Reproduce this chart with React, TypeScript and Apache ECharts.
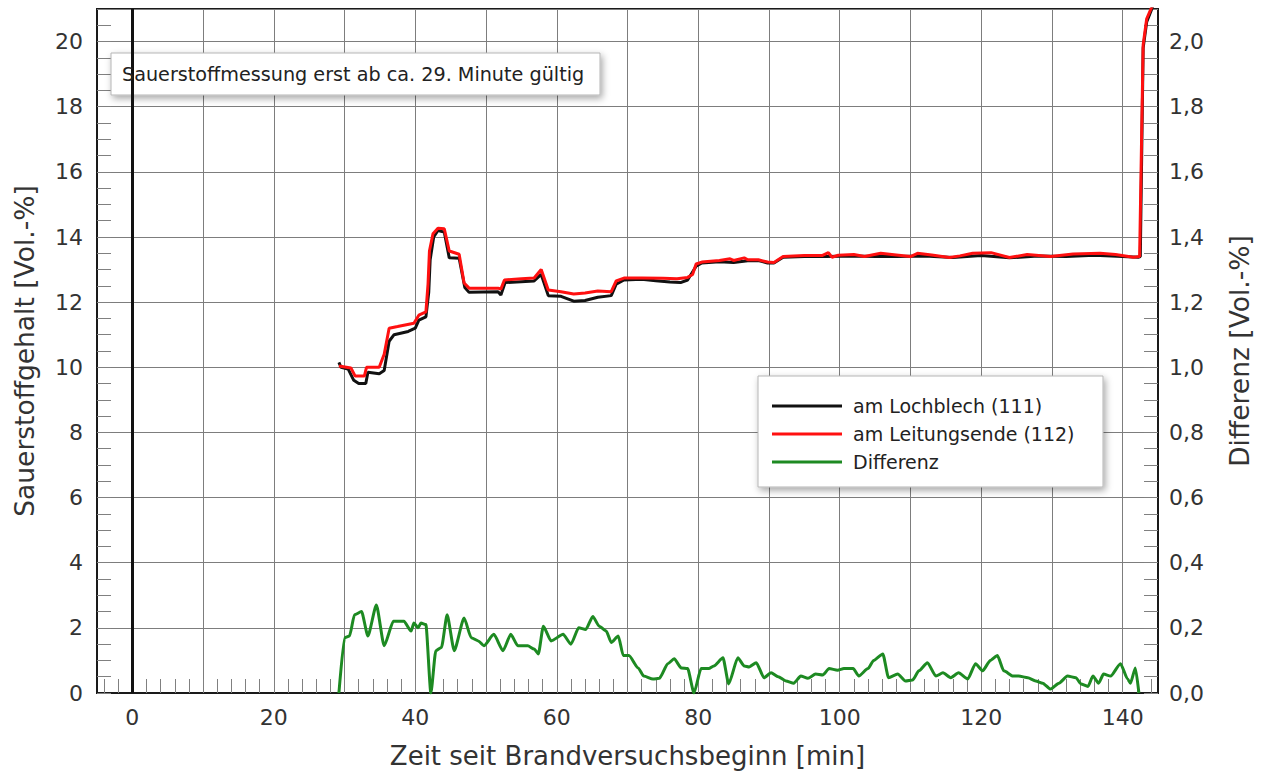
import React, { useEffect, useRef } from "react";
import * as echarts from "echarts";

const xLabelValues = [0, 20, 40, 60, 80, 100, 120, 140];
const xGridValues = [0, 10, 20, 30, 40, 50, 60, 70, 80, 90, 100, 110, 120, 130, 140];
const seriesNames = ["am Lochblech (111)", "am Leitungsende (112)", "Differenz"];
const noteText = "Sauerstoffmessung erst ab ca. 29. Minute gültig";
const xName = "Zeit seit Brandversuchsbeginn [min]";
const yLeftName = "Sauerstoffgehalt [Vol.-%]";
const yRightName = "Differenz [Vol.-%]";

const blackData = [
  [29.2, 10.15], [29.5, 10.0], [30.5, 9.95], [31.3, 9.6], [32.0, 9.5], [33.0, 9.5], [33.3, 9.85],
  [34.9, 9.8], [35.6, 9.9], [36.3, 10.8], [37.0, 11.0], [39.0, 11.1], [40.0, 11.2], [40.5, 11.45],
  [41.5, 11.55], [41.9, 12.3], [42.1, 13.3], [42.6, 14.0], [43.2, 14.2], [44.1, 14.15], [44.8, 13.36],
  [46.2, 13.35], [47.0, 12.45], [47.6, 12.3], [51.7, 12.32], [52.1, 12.22], [52.7, 12.6], [56.8, 12.65],
  [57.8, 12.85], [58.8, 12.2], [60.6, 12.18], [62.4, 12.03], [64.0, 12.05], [65.8, 12.15], [67.7, 12.2],
  [68.4, 12.55], [69.5, 12.68], [72.0, 12.7], [74.0, 12.66], [76.0, 12.62], [77.5, 12.6], [78.5, 12.68],
  [79.7, 13.1], [80.5, 13.2], [83.0, 13.24], [85.0, 13.22], [87.0, 13.27], [88.5, 13.28], [89.8, 13.2],
  [90.7, 13.2], [92.0, 13.38], [95.0, 13.4], [98.0, 13.4], [102.0, 13.42], [105.0, 13.4], [108.0, 13.4],
  [112.0, 13.42], [116.0, 13.37], [120.0, 13.43], [124.0, 13.36], [128.0, 13.42], [132.0, 13.4],
  [136.0, 13.44], [140.0, 13.4], [142.2, 13.38], [142.5, 13.4], [142.9, 19.8], [143.4, 20.6], [144.3, 21.1],
];

const redData = [
  [29.2, 10.04], [30.9, 9.98], [31.5, 9.73], [32.8, 9.73], [33.1, 10.0], [34.9, 10.0], [35.6, 10.4],
  [36.3, 11.2], [37.5, 11.25], [39.8, 11.35], [40.5, 11.6], [41.5, 11.7], [41.8, 12.55], [42.0, 13.57],
  [42.5, 14.1], [43.2, 14.27], [44.1, 14.25], [44.8, 13.57], [46.2, 13.47], [46.9, 12.59], [47.6, 12.43],
  [51.7, 12.43], [52.1, 12.4], [52.6, 12.68], [55.0, 12.72], [56.8, 12.74], [57.8, 13.0], [58.8, 12.37],
  [60.6, 12.32], [62.4, 12.25], [64.0, 12.28], [65.8, 12.34], [67.7, 12.32], [68.4, 12.65], [69.5, 12.74],
  [72.0, 12.74], [75.0, 12.73], [77.0, 12.72], [78.5, 12.76], [79.2, 12.85], [79.7, 13.17], [80.5, 13.23],
  [83.0, 13.28], [84.5, 13.33], [85.0, 13.28], [86.5, 13.36], [87.0, 13.3], [88.5, 13.3], [89.8, 13.23],
  [90.7, 13.22], [92.0, 13.4], [95.0, 13.43], [97.5, 13.43], [98.4, 13.52], [98.9, 13.38], [99.8, 13.44],
  [102.0, 13.46], [103.5, 13.4], [105.8, 13.5], [108.0, 13.45], [110.0, 13.4], [111.0, 13.5], [113.0, 13.45],
  [115.5, 13.37], [117.0, 13.42], [118.8, 13.5], [121.4, 13.52], [124.0, 13.37], [126.5, 13.46],
  [129.8, 13.4], [133.0, 13.48], [136.8, 13.5], [139.0, 13.46], [141.5, 13.38], [142.4, 13.4],
  [142.9, 19.9], [143.4, 20.7], [144.3, 21.15],
];

const greenData = [
  [29.2, 0], [30.0, 0.17], [30.7, 0.175], [31.4, 0.24], [32.4, 0.25], [33.3, 0.175], [34.5, 0.27],
  [35.6, 0.145], [36.9, 0.22], [38.4, 0.22], [39.4, 0.19], [39.8, 0.215], [40.4, 0.2], [40.8, 0.215],
  [41.5, 0.21], [42.2, 0], [42.9, 0.13], [43.7, 0.14], [44.5, 0.24], [45.5, 0.13], [46.9, 0.23],
  [47.9, 0.17], [48.9, 0.16], [49.7, 0.145], [51.1, 0.18], [52.4, 0.13], [53.5, 0.18], [54.5, 0.145],
  [55.9, 0.145], [56.8, 0.135], [57.4, 0.12], [58.1, 0.205], [59.2, 0.16], [60.9, 0.18], [62.0, 0.15],
  [63.1, 0.2], [64.1, 0.195], [65.1, 0.235], [66.0, 0.205], [67.0, 0.19], [67.7, 0.155], [68.7, 0.175],
  [69.4, 0.115], [70.2, 0.115], [71.5, 0.077], [72.3, 0.052], [73.6, 0.043], [74.5, 0.045], [75.7, 0.09],
  [76.6, 0.105], [77.6, 0.077], [78.5, 0.075], [79.4, 0], [80.4, 0.075], [81.5, 0.075], [82.2, 0.083],
  [83.5, 0.108], [84.3, 0.028], [85.6, 0.108], [86.5, 0.083], [87.2, 0.08], [88.2, 0.093], [89.3, 0.047],
  [90.3, 0.062], [91.3, 0.05], [92.4, 0.037], [93.5, 0.03], [94.5, 0.052], [95.5, 0.045], [96.6, 0.058],
  [97.6, 0.055], [98.5, 0.075], [99.7, 0.07], [100.6, 0.075], [101.9, 0.075], [102.7, 0.052], [104.0, 0.075],
  [104.8, 0.1], [106.1, 0.12], [106.9, 0.047], [108.2, 0.058], [109.3, 0.037], [110.3, 0.04], [111.2, 0.068],
  [112.4, 0.093], [113.6, 0.052], [114.6, 0.062], [115.7, 0.047], [116.8, 0.062], [118.1, 0.043],
  [119.2, 0.09], [120.2, 0.068], [121.3, 0.1], [122.3, 0.115], [123.2, 0.068], [124.5, 0.052],
  [125.3, 0.052], [126.6, 0.047], [127.7, 0.037], [128.7, 0.03], [129.8, 0.012], [131.0, 0.03],
  [132.2, 0.052], [133.4, 0.047], [134.1, 0.028], [135.1, 0.02], [135.8, 0.052], [136.6, 0.03],
  [137.3, 0.058], [138.3, 0.052], [139.7, 0.09], [140.7, 0.043], [141.1, 0.03], [141.8, 0.077], [142.3, 0],
];

const FONT = "DejaVu Sans";

export default function App() {
  const ref = useRef<HTMLDivElement>(null);

  useEffect(() => {
    if (!ref.current) return;
    const chart = echarts.init(ref.current, null, { renderer: "svg" });

    const xMinor: number[] = [];
    for (let v = -4; v <= 144; v += 2) xMinor.push(v);
    const yLeftMinor: number[] = [];
    for (let i = 0; i <= 42; i++) yLeftMinor.push(i * 0.5);
    const yRightMinor: number[] = [];
    for (let i = 0; i <= 42; i++) yRightMinor.push(+(i * 0.05).toFixed(2));

    const tickStyle = { color: "#808080", width: 1 };
    const gridLine = { color: "#7d7d7d", width: 1 };

    chart.setOption({
      animation: false,
      backgroundColor: "#ffffff",
      textStyle: { fontFamily: FONT },
      grid: {
        left: 97,
        right: 113,
        top: 9,
        bottom: 86,
        show: true,
        borderColor: "#1a1a1a",
        borderWidth: 2,
        backgroundColor: "transparent",
      },
      legend: {
        show: true,
        orient: "vertical",
        left: 772,
        top: 396,
        itemWidth: 70,
        itemHeight: 3,
        itemGap: 8,
        icon: "rect",
        selectedMode: false,
        padding: 0,
        z: 10,
        textStyle: { fontSize: 19, fontFamily: FONT, color: "#222", lineHeight: 20, padding: [0, 0, 0, 6] },
        data: seriesNames,
      },
      xAxis: [
        {
          type: "value",
          min: -5,
          max: 145,
          position: "bottom",
          name: xName,
          nameLocation: "middle",
          nameGap: 50,
          nameTextStyle: { fontSize: 26, color: "#333", fontFamily: FONT },
          axisLine: { show: true, onZero: false, lineStyle: { color: "#1a1a1a", width: 2 } },
          axisTick: { show: false, customValues: xGridValues },
          axisLabel: { customValues: xLabelValues, fontSize: 22, color: "#333", margin: 13, fontFamily: FONT },
          splitLine: { show: true, lineStyle: gridLine },
        },
        {
          type: "value",
          min: -5,
          max: 145,
          position: "bottom",
          axisLine: { show: false, onZero: false },
          axisLabel: { show: false },
          splitLine: { show: false },
          axisTick: { show: true, inside: true, length: 14, customValues: xMinor, lineStyle: tickStyle },
        },
      ],
      yAxis: [
        {
          type: "value",
          min: 0,
          max: 21,
          interval: 2,
          position: "left",
          name: yLeftName,
          nameLocation: "middle",
          nameRotate: 90,
          nameGap: 59,
          nameTextStyle: { fontSize: 26.5, color: "#333", fontFamily: FONT },
          axisLine: { show: true, onZero: false, lineStyle: { color: "#1a1a1a", width: 2 } },
          axisTick: { show: false },
          axisLabel: { fontSize: 22, color: "#333", margin: 14, showMaxLabel: false, fontFamily: FONT },
          splitLine: { show: true, lineStyle: gridLine },
        },
        {
          type: "value",
          min: 0,
          max: 2.1,
          interval: 0.2,
          position: "right",
          name: yRightName,
          nameLocation: "middle",
          nameRotate: 90,
          nameGap: 68,
          nameTextStyle: { fontSize: 26.5, color: "#333", fontFamily: FONT },
          axisLine: { show: true, onZero: false, lineStyle: { color: "#1a1a1a", width: 2 } },
          axisTick: { show: false },
          axisLabel: {
            fontSize: 22,
            color: "#333",
            margin: 11,
            showMaxLabel: false,
            fontFamily: FONT,
            formatter: (v: number) => v.toFixed(1).replace(".", ","),
          },
          splitLine: { show: false },
        },
        {
          type: "value",
          min: 0,
          max: 21,
          position: "left",
          axisLine: { show: false, onZero: false },
          axisLabel: { show: false },
          splitLine: { show: false },
          axisTick: { show: true, inside: true, length: 14, customValues: yLeftMinor, lineStyle: tickStyle },
        },
        {
          type: "value",
          min: 0,
          max: 2.1,
          position: "right",
          axisLine: { show: false, onZero: false },
          axisLabel: { show: false },
          splitLine: { show: false },
          axisTick: { show: true, inside: true, length: 14, customValues: yRightMinor, lineStyle: tickStyle },
        },
      ],
      graphic: [
        {
          type: "rect",
          z: 5,
          shape: { x: 111, y: 53, width: 489, height: 42 },
          style: {
            fill: "#ffffff",
            stroke: "#b5b5b5",
            lineWidth: 1,
            shadowBlur: 7,
            shadowOffsetX: 2,
            shadowOffsetY: 3,
            shadowColor: "rgba(0,0,0,0.35)",
          },
        },
        {
          type: "text",
          z: 6,
          x: 122,
          y: 74,
          style: { text: noteText, fontSize: 19.2, fontFamily: FONT, fill: "#222", verticalAlign: "middle" },
        },
        {
          type: "rect",
          z: 5,
          shape: { x: 758, y: 376, width: 345, height: 111 },
          style: {
            fill: "#ffffff",
            stroke: "#b5b5b5",
            lineWidth: 1,
            shadowBlur: 7,
            shadowOffsetX: 2,
            shadowOffsetY: 3,
            shadowColor: "rgba(0,0,0,0.35)",
          },
        },
      ],
      series: [
        {
          name: seriesNames[0],
          type: "line",
          xAxisIndex: 0,
          yAxisIndex: 0,
          data: blackData,
          showSymbol: false,
          symbol: "none",
          color: "#111111",
          lineStyle: { color: "#111111", width: 3 },
          z: 2,
        },
        {
          name: seriesNames[1],
          type: "line",
          xAxisIndex: 0,
          yAxisIndex: 0,
          data: redData,
          showSymbol: false,
          symbol: "none",
          color: "#ff1010",
          lineStyle: { color: "#ff1010", width: 3 },
          z: 3,
        },
        {
          name: seriesNames[2],
          type: "line",
          xAxisIndex: 0,
          yAxisIndex: 1,
          data: greenData,
          showSymbol: false,
          symbol: "none",
          smooth: 0.2,
          smoothMonotone: "x",
          color: "#1d8a22",
          lineStyle: { color: "#1d8a22", width: 3 },
          z: 3,
          markLine: {
            silent: true,
            symbol: ["none", "none"],
            label: { show: false },
            lineStyle: { color: "#111111", width: 3, type: "solid" },
            data: [{ xAxis: 0 }],
          },
        },
      ],
    });

    return () => chart.dispose();
  }, []);

  return (
    <div
      ref={ref}
      style={{ position: "fixed", left: 0, top: 0, width: 1271, height: 779, background: "#fff" }}
    />
  );
}
